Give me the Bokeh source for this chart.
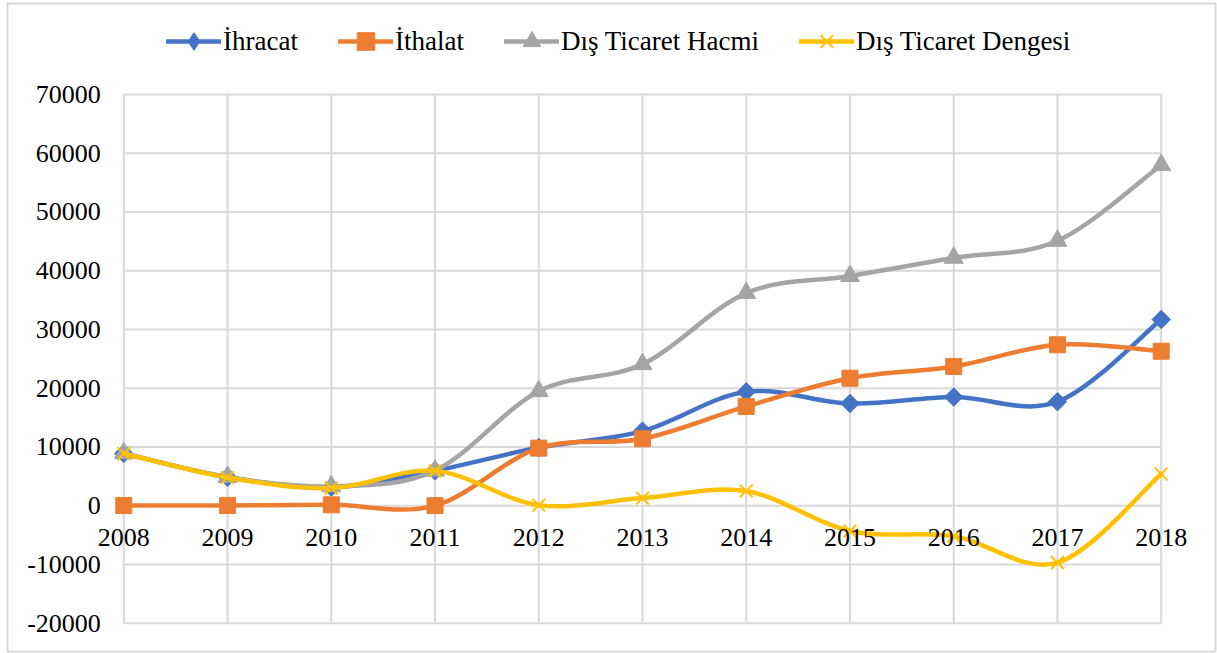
import math
from bokeh.plotting import figure
from bokeh.models import ColumnDataSource, Legend, LegendItem, LabelSet
from bokeh.embed import file_html
from bokeh.resources import INLINE

# ---- data ----
years = [2008, 2009, 2010, 2011, 2012, 2013, 2014, 2015, 2016, 2017, 2018]
ihracat = [8900, 4850, 3150, 5950, 9900, 12700, 19400, 17400, 18500, 17700, 31700]
ithalat = [30, 50, 150, 20, 9800, 11400, 16900, 21700, 23700, 27400, 26300]
hacim = [8930, 4900, 3300, 5970, 19500, 24100, 36200, 39100, 42200, 45100, 58000]
denge = [8870, 4800, 3000, 5930, 100, 1300, 2500, -4300, -5200, -9700, 5400]
yticks = [-20000, -10000, 0, 10000, 20000, 30000, 40000, 50000, 60000, 70000]
year_labels = [str(y) for y in years]
ytick_labels = [str(v) for v in yticks]

series = [
    ("İhracat", ihracat, "#4472C4", dict(marker="square", angle=math.pi / 4, size=13), "diamond"),
    ("İthalat", ithalat, "#ED7D31", dict(marker="square", size=16), "square"),
    ("Dış Ticaret Hacmi", hacim, "#A5A5A5", dict(marker="triangle", size=19), "triangle"),
    ("Dış Ticaret Dengesi", denge, "#FFC000", dict(marker="x", size=18, line_width=2), "x"),
]

FONT = "Liberation Serif"


def smooth_segments(xs, ys):
    """Catmull-Rom style (Excel smoothed line) bezier control points."""
    n = len(xs)
    out = dict(x0=[], y0=[], x1=[], y1=[], cx0=[], cy0=[], cx1=[], cy1=[])
    for i in range(n - 1):
        xm, ym = (xs[i - 1], ys[i - 1]) if i > 0 else (xs[i], ys[i])
        xp, yp = (xs[i + 2], ys[i + 2]) if i + 2 < n else (xs[i + 1], ys[i + 1])
        out["x0"].append(xs[i]); out["y0"].append(ys[i])
        out["x1"].append(xs[i + 1]); out["y1"].append(ys[i + 1])
        out["cx0"].append(xs[i] + (xs[i + 1] - xm) / 6.0)
        out["cy0"].append(ys[i] + (ys[i + 1] - ym) / 6.0)
        out["cx1"].append(xs[i + 1] - (xp - xs[i]) / 6.0)
        out["cy1"].append(ys[i + 1] - (yp - ys[i]) / 6.0)
    return out


p = figure(
    width=1217, height=653,
    min_border_left=7, min_border_right=2, min_border_top=3, min_border_bottom=2,
    x_range=(2006.8789, 2018.5234), y_range=(-24818, 85491),
    x_axis_location=None, y_axis_location=None,
    output_backend="svg", toolbar_location=None,
)
p.outline_line_color = "#d9d9d9"
p.outline_line_width = 2
p.xgrid.visible = False
p.ygrid.visible = False

# grid lines built from ticks
p.segment(x0=years, x1=years, y0=[yticks[0]] * len(years), y1=[yticks[-1]] * len(years),
          line_color="#d9d9d9", line_width=2)
p.segment(x0=[years[0]] * len(yticks), x1=[years[-1]] * len(yticks), y0=yticks, y1=yticks,
          line_color="#d9d9d9", line_width=2)

items = []
for name, vals, color, mk, legend_marker in series:
    src = ColumnDataSource(smooth_segments(years, vals))
    br = p.bezier(x0="x0", y0="y0", x1="x1", y1="y1", cx0="cx0", cy0="cy0", cx1="cx1", cy1="cy1",
                  source=src, line_color=color, line_width=4.5, line_cap="round")
    kw = dict(mk)
    lw = kw.pop("line_width", 1)
    p.scatter(x=years, y=vals, fill_color=color, line_color=color, line_width=lw, **kw)
    # marker used only for the legend key
    lk = p.scatter(x=years, y=vals, marker=legend_marker, fill_color=color, line_color=color,
                   line_width=lw, visible=False)
    items.append(LegendItem(label=name, renderers=[br, lk]))

legend = Legend(items=items, orientation="horizontal", location=(159, 588),
                glyph_width=55, glyph_height=44, label_standoff=2, spacing=40,
                padding=0, margin=0, border_line_color=None, background_fill_alpha=0,
                label_text_font=FONT, label_text_font_size="27px", label_text_color="#000000")
p.add_layout(legend, "center")

# category labels along the zero line
x_src = ColumnDataSource(dict(x=years, y=[0] * len(years), t=year_labels))
p.add_layout(LabelSet(x="x", y="y", text="t", source=x_src, text_align="center",
                      text_baseline="top", y_offset=-23, text_font=FONT,
                      text_font_size="26px", text_color="#000000"))

# value labels on the left
y_src = ColumnDataSource(dict(x=[years[0]] * len(yticks), y=yticks, t=ytick_labels))
p.add_layout(LabelSet(x="x", y="y", text="t", source=y_src, text_align="right",
                      text_baseline="middle", x_offset=-23, text_font=FONT,
                      text_font_size="26px", text_color="#000000"))

open("out.html", "w").write(file_html(p, INLINE))
